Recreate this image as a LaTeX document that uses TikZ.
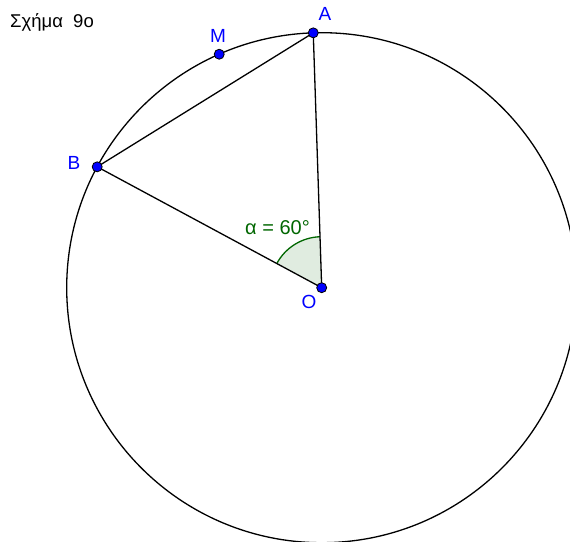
\documentclass[tikz,border=0pt]{standalone}
\usepackage{fontspec}
\setmainfont{Liberation Sans}
\begin{document}
\begin{tikzpicture}[x=1pt,y=1pt,
  pt/.style={circle,draw=black,fill=blue,inner sep=0pt,minimum size=10pt,line width=0.8pt},
  lbl/.style={text=blue,font=\fontsize{19}{21}\selectfont,inner sep=0pt},
  seg/.style={line width=1.3pt,black}]
\useasboundingbox (0,0) rectangle (570,-541);
\coordinate (O) at (321.7,-287.7);
\begin{scope}
\clip (0,0) rectangle (570,-541);
\draw[seg] (O) circle (255);
\end{scope}
\path (O) ++(91.9:255) coordinate (A);
\path (O) ++(151.7:255) coordinate (B);
\path (O) ++(113.7:255) coordinate (M);
\fill[green!40!black,fill opacity=0.12] (O) -- ++(151.7:51) arc[start angle=151.7,end angle=91.9,radius=51] -- cycle;
\draw[green!40!black,line width=1.3pt] (O) ++(151.7:51) arc[start angle=151.7,end angle=91.9,radius=51];
\draw[seg] (A) -- (B) -- (O) -- (A);
\node[pt] (nA) at (A) {};
\node[pt] (nB) at (B) {};
\node[pt] (nM) at (M) {};
\node[pt] (nO) at (O) {};
\node[lbl] (lA) at (325,-14) {A};
\node[lbl] (lM) at (218,-36) {M};
\node[lbl] (lB) at (74,-163) {B};
\node[lbl] (lO) at (309,-302) {O};
\node[text=green!40!black,font=\fontsize{20}{22}\selectfont,inner sep=0pt] (alpha) at (277.5,-228) {α = 60°};
\node[anchor=west,font=\fontsize{18.5}{21}\selectfont,inner sep=0pt] (title) at (10,-22) {Σχήμα\ \ 9o};
\end{tikzpicture}
\end{document}
